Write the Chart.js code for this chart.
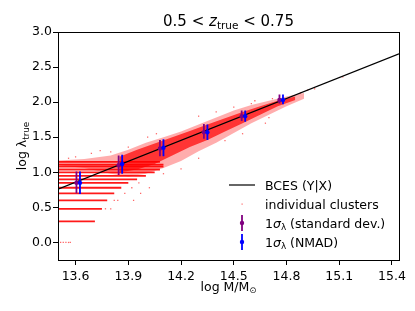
<!DOCTYPE html>
<html>
<head>
<meta charset="utf-8">
<script src="https://cdn.jsdelivr.net/npm/chart.js@4.4.1/dist/chart.umd.min.js"></script>
<style>
  html, body { margin: 0; padding: 0; background: #fff; }
  #wrap { width: 415px; height: 311px; }
</style>
</head>
<body>
<div id="wrap"><canvas id="chart"></canvas></div>
<script>
const xTicks = [13.6, 13.9, 14.2, 14.5, 14.8, 15.1, 15.4];
const yTicks = [0.0, 0.5, 1.0, 1.5, 2.0, 2.5, 3.0];

// BCES (Y|X) fit, read at both edges of the axes
const fitX = [13.5, 15.44];
const fitY = [0.76, 2.69];

// binned values, 1 sigma (standard deviation)
const stdX  = [13.605, 13.845, 14.08, 14.33, 14.545, 14.76];
const stdY  = [0.85, 1.10, 1.34, 1.57, 1.80, 2.03];
const stdLo = [0.70, 0.96, 1.23, 1.48, 1.73, 1.98];
const stdHi = [1.01, 1.24, 1.46, 1.69, 1.88, 2.11];

// binned values, 1 sigma (NMAD)
const nmadX  = [13.625, 13.865, 14.10, 14.35, 14.565, 14.78];
const nmadY  = [0.85, 1.12, 1.35, 1.57, 1.80, 2.03];
const nmadLo = [0.69, 0.98, 1.23, 1.46, 1.72, 1.97];
const nmadHi = [1.01, 1.25, 1.47, 1.68, 1.88, 2.11];

// quantised richness rows at low mass (level, start, end)
const rowLevel = [0.30, 0.48, 0.60, 0.70, 0.78, 0.85, 0.90, 0.95, 1.00, 1.04, 1.08, 1.11, 1.15];
const rowStart = [13.5, 13.5, 13.5, 13.5, 13.5, 13.5, 13.5, 13.5, 13.5, 13.5, 13.5, 13.5, 13.5];
const rowEnd   = [13.71, 13.75, 13.78, 13.82, 13.86, 13.90, 13.95, 14.00, 14.05, 14.08, 14.10, 14.10, 14.08];

// light outer envelope of the cluster cloud
const outerX     = [13.5, 13.65, 13.8, 13.9, 14.0, 14.1, 14.2, 14.3, 14.4, 14.5, 14.6, 14.7, 14.8, 14.9];
const outerUpper = [1.17, 1.19, 1.24, 1.32, 1.42, 1.50, 1.58, 1.68, 1.78, 1.88, 1.96, 2.02, 2.08, 2.13];
const outerLower = [1.10, 1.06, 0.98, 0.94, 0.98, 1.06, 1.16, 1.30, 1.42, 1.56, 1.70, 1.82, 1.94, 2.05];

// dense core of the cluster cloud
const innerX     = [13.85, 13.95, 14.05, 14.15, 14.25, 14.35, 14.45, 14.55, 14.65, 14.75, 14.85];
const innerUpper = [1.22, 1.32, 1.41, 1.50, 1.59, 1.68, 1.77, 1.86, 1.94, 2.02, 2.08];
const innerLower = [1.00, 1.04, 1.12, 1.24, 1.36, 1.46, 1.58, 1.70, 1.82, 1.94, 2.03];

// scattered clusters outside the dense part
const looseX = [13.515, 13.53, 13.545, 13.56, 13.57, 13.77, 13.80, 13.82, 13.84, 13.88, 13.92, 13.96, 13.69,
                13.74, 13.80, 13.90, 14.01, 14.06, 14.30, 14.40, 14.50, 14.60, 14.72, 14.88, 14.92, 14.96,
                15.12, 14.20, 14.30, 14.45, 14.55, 14.70, 14.10, 14.62, 14.68, 13.97, 14.02, 13.93, 13.60, 13.56];
const looseY = [0.00, 0.00, 0.00, 0.00, 0.00, 0.48, 0.48, 0.60, 0.60, 0.70, 0.78, 0.85, 1.27,
                1.31, 1.29, 1.36, 1.50, 1.55, 1.80, 1.86, 1.93, 1.98, 2.05, 2.13, 2.17, 2.19,
                2.36, 1.05, 1.20, 1.45, 1.55, 1.78, 0.98, 2.02, 1.70, 0.70, 0.78, 0.60, 1.22, 1.20];

const RED = "rgba(255,0,0,0.9)";
const PURPLE = "#800080";
const BLUE = "#0000ff";
const FONT = "DejaVu Sans";

function pts(xs, ys) {
  return xs.map((x, i) => ({ x, y: ys[i] }));
}
function bars(xs, lo, hi) {
  const out = [];
  xs.forEach((x, i) => {
    out.push({ x, y: lo[i] }, { x, y: hi[i] }, { x, y: null });
  });
  return out;
}
function rows() {
  const out = [];
  rowLevel.forEach((y, i) => {
    out.push({ x: rowStart[i], y }, { x: rowEnd[i], y }, { x: rowEnd[i], y: null });
  });
  return out;
}

// draws text made of several runs (normal / italic / subscript)
function drawRuns(ctx, runs, x, y, align) {
  let total = 0;
  runs.forEach(r => {
    ctx.font = `${r.style || ""} ${r.size}px "${FONT}"`;
    r.w = ctx.measureText(r.t).width;
    total += r.w;
  });
  let cx = align === "center" ? x - total / 2 : x;
  ctx.textBaseline = "alphabetic";
  ctx.textAlign = "left";
  runs.forEach(r => {
    ctx.font = `${r.style || ""} ${r.size}px "${FONT}"`;
    ctx.fillText(r.t, cx, y + (r.dy || 0));
    cx += r.w;
  });
}

const decorations = {
  id: "decorations",
  afterDraw(chart) {
    const { ctx, chartArea: a } = chart;
    ctx.save();
    ctx.strokeStyle = "#000";
    ctx.lineWidth = 1;
    ctx.strokeRect(Math.round(a.left) + 0.5, Math.round(a.top) + 0.5,
                   Math.round(a.right - a.left), Math.round(a.bottom - a.top));
    ctx.fillStyle = "#000";
    const mid = (a.left + a.right) / 2;

    drawRuns(ctx, [
      { t: "0.5 < ", size: 15 },
      { t: "z", size: 15, style: "italic" },
      { t: "true", size: 10.5, dy: 2.5 },
      { t: " < 0.75", size: 15 }
    ], mid, 26, "center");

    drawRuns(ctx, [
      { t: "log M/M", size: 12.5 },
      { t: "\u2299", size: 8.5, dy: 2 }
    ], mid, 291, "center");

    ctx.save();
    ctx.translate(26, (a.top + a.bottom) / 2);
    ctx.rotate(-Math.PI / 2);
    drawRuns(ctx, [
      { t: "log \u03bb", size: 12.5 },
      { t: "true", size: 8.8, dy: 2.5 }
    ], 0, 0, "center");
    ctx.restore();

    // legend
    const lx = 229, tx = 265;
    const ly = [185, 204, 223, 242];
    ctx.lineWidth = 1.2;
    ctx.beginPath();
    ctx.moveTo(lx, ly[0]);
    ctx.lineTo(lx + 26, ly[0]);
    ctx.stroke();
    ctx.fillStyle = "rgba(255,0,0,0.6)";
    ctx.fillRect(lx + 12.5, ly[1] - 0.5, 1.2, 1.2);
    [[PURPLE, ly[2]], [BLUE, ly[3]]].forEach(([c, y]) => {
      ctx.strokeStyle = c;
      ctx.fillStyle = c;
      ctx.lineWidth = 1.8;
      ctx.beginPath();
      ctx.moveTo(lx + 13, y - 8);
      ctx.lineTo(lx + 13, y + 8);
      ctx.stroke();
      ctx.beginPath();
      ctx.arc(lx + 13, y, 2.2, 0, Math.PI * 2);
      ctx.fill();
    });
    ctx.fillStyle = "#000";
    const labels = [
      [{ t: "BCES (Y|X)", size: 12.5 }],
      [{ t: "individual clusters", size: 12.5 }],
      [{ t: "1", size: 12.5 }, { t: "\u03c3", size: 12.5, style: "italic" }, { t: "\u03bb", size: 8.8, dy: 2.5 },
       { t: " (standard dev.)", size: 12.5 }],
      [{ t: "1", size: 12.5 }, { t: "\u03c3", size: 12.5, style: "italic" }, { t: "\u03bb", size: 8.8, dy: 2.5 },
       { t: " (NMAD)", size: 12.5 }]
    ];
    labels.forEach((runs, i) => drawRuns(ctx, runs, tx, ly[i] + 4.5, "left"));
    ctx.restore();
  }
};

new Chart(document.getElementById("chart"), {
  type: "scatter",
  data: {
    datasets: [
      { label: "outer", type: "line", data: pts(outerX, outerUpper), borderWidth: 0, pointRadius: 0,
        fill: false, order: 10 },
      { label: "outerLow", type: "line", data: pts(outerX, outerLower), borderWidth: 0, pointRadius: 0,
        fill: "-1", backgroundColor: "rgba(255,0,0,0.32)", order: 10 },
      { label: "inner", type: "line", data: pts(innerX, innerUpper), borderWidth: 0, pointRadius: 0,
        fill: false, order: 9 },
      { label: "innerLow", type: "line", data: pts(innerX, innerLower), borderWidth: 0, pointRadius: 0,
        fill: "-1", backgroundColor: "rgba(255,0,0,0.7)", order: 9 },
      { label: "rows", data: rows(), showLine: true, spanGaps: false, borderColor: RED, borderWidth: 1.8,
        pointRadius: 0, order: 8 },
      { label: "individual clusters", data: pts(looseX, looseY), backgroundColor: "rgba(255,0,0,0.6)",
        borderWidth: 0, pointStyle: "rect", pointRadius: 0.9, order: 7 },
      { label: "BCES (Y|X)", data: pts(fitX, fitY), showLine: true, borderColor: "#000", borderWidth: 1.2,
        pointRadius: 0, order: 6 },
      { label: "std bars", data: bars(stdX, stdLo, stdHi), showLine: true, spanGaps: false,
        borderColor: PURPLE, borderWidth: 1.8, pointRadius: 0, order: 5 },
      { label: "1σ (standard dev.)", data: pts(stdX, stdY), backgroundColor: PURPLE, borderWidth: 0,
        pointRadius: 2.2, order: 4 },
      { label: "nmad bars", data: bars(nmadX, nmadLo, nmadHi), showLine: true, spanGaps: false,
        borderColor: BLUE, borderWidth: 1.8, pointRadius: 0, order: 3 },
      { label: "1σ (NMAD)", data: pts(nmadX, nmadY), backgroundColor: BLUE, borderWidth: 0,
        pointRadius: 2.2, order: 2 }
    ]
  },
  options: {
    responsive: true,
    maintainAspectRatio: false,
    animation: false,
    events: [],
    layout: { padding: { top: 32, right: 16, left: 0, bottom: 0 } },
    plugins: {
      legend: { display: false },
      tooltip: { enabled: false },
      title: { display: false }
    },
    scales: {
      x: {
        type: "linear",
        min: 13.5,
        max: 15.44,
        afterBuildTicks: s => { s.ticks = xTicks.map(v => ({ value: v })); },
        afterFit: s => { s.height = 51; },
        grid: { drawOnChartArea: false, drawTicks: true, tickLength: 5, color: "#000" },
        border: { display: false },
        ticks: {
          color: "#000",
          padding: 4,
          maxRotation: 0,
          font: { family: FONT, size: 12.5 },
          callback: v => v.toFixed(1)
        }
      },
      y: {
        type: "linear",
        min: -0.25,
        max: 3.0,
        afterBuildTicks: s => { s.ticks = yTicks.map(v => ({ value: v })); },
        afterFit: s => { s.width = 58; },
        grid: { drawOnChartArea: false, drawTicks: true, tickLength: 5, color: "#000" },
        border: { display: false },
        ticks: {
          color: "#000",
          padding: 1,
          font: { family: FONT, size: 12.5 },
          callback: v => v.toFixed(1)
        }
      }
    }
  },
  plugins: [decorations]
});
</script>
</body>
</html>
